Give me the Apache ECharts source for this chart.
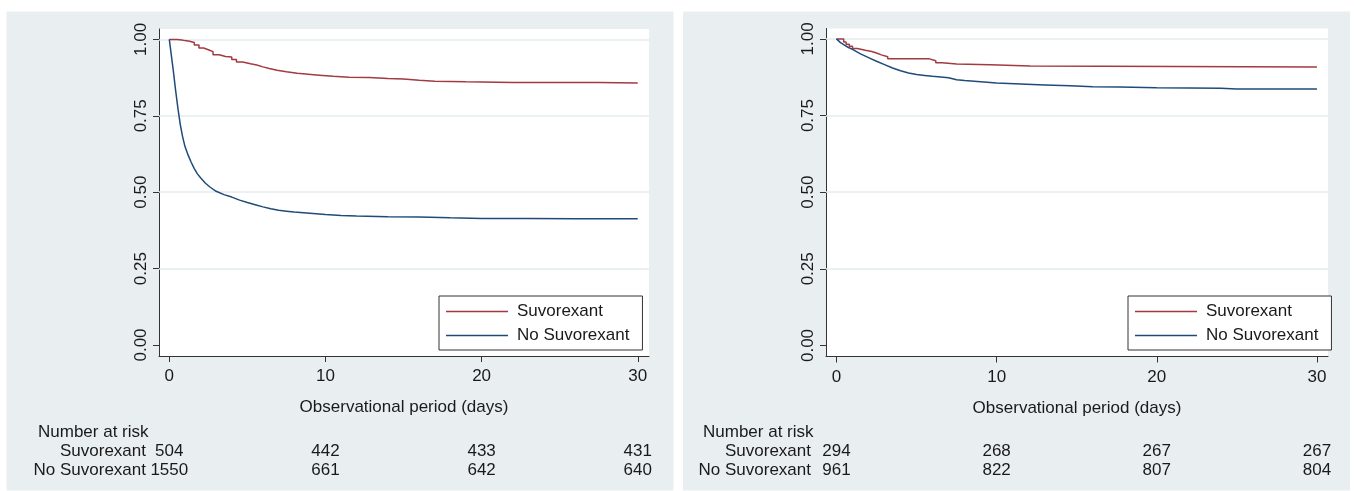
<!DOCTYPE html>
<html>
<head>
<meta charset="utf-8">
<script src="https://cdn.jsdelivr.net/npm/echarts@6/dist/echarts.min.js"></script>
<style>
  html, body { margin: 0; padding: 0; background: #fff; }
  #main { width: 1354px; height: 491px; }
</style>
</head>
<body>
<div id="main"></div>
<script>
// ---- data ----
var dayTicks = [0, 10, 20, 30];
var survTicks = [0, 0.25, 0.5, 0.75, 1];
var groupNames = ['Suvorexant', 'No Suvorexant'];

// left panel
var leftSuvT = [0, 0.5, 0.8, 1.0, 1.3, 1.6, 1.9, 2.2, 2.5, 2.8, 3.2, 3.6, 4.0, 4.3, 4.7, 5.2, 5.6, 6.0, 6.4, 6.9, 7.5, 8.2, 8.9, 9.6, 10.5, 11.5, 12.8, 14.0, 15.0, 16.0, 17.0, 19.0, 22.0, 25.0, 27.5, 30.0];
var leftSuvS = [1.000, 0.998, 0.996, 0.994, 0.990, 0.982, 0.972, 0.966, 0.960, 0.950, 0.944, 0.942, 0.934, 0.926, 0.920, 0.916, 0.910, 0.905, 0.899, 0.894, 0.889, 0.886, 0.883, 0.879, 0.876, 0.875, 0.872, 0.870, 0.866, 0.863, 0.861, 0.859, 0.859, 0.859, 0.857, 0.855];
var leftNoT = [0, 0.1, 0.25, 0.4, 0.55, 0.7, 0.85, 1.0, 1.2, 1.4, 1.6, 1.8, 2.0, 2.3, 2.6, 3.0, 3.5, 4.0, 4.5, 5.0, 5.5, 6.0, 6.5, 7.0, 7.5, 8.0, 9.0, 10.0, 11.0, 12.0, 14.0, 16.0, 18.0, 20.0, 23.0, 26.0, 30.0];
var leftNoS = [1.000, 0.960, 0.900, 0.835, 0.775, 0.722, 0.682, 0.650, 0.622, 0.598, 0.577, 0.560, 0.547, 0.530, 0.517, 0.503, 0.492, 0.484, 0.474, 0.466, 0.459, 0.452, 0.446, 0.441, 0.438, 0.435, 0.431, 0.427, 0.424, 0.422, 0.420, 0.419, 0.416, 0.414, 0.414, 0.413, 0.413];
var leftRiskSuv = [504, 442, 433, 431];
var leftRiskNo = [1550, 661, 642, 640];

// right panel
var rightSuvT = [0, 0.45, 0.6, 0.8, 1.0, 1.3, 1.8, 2.2, 2.5, 2.8, 3.2, 5.8, 6.2, 6.6, 7.5, 9.6, 12.1, 30.0];
var rightSuvS = [1.000, 0.990, 0.983, 0.976, 0.969, 0.963, 0.959, 0.954, 0.948, 0.942, 0.935, 0.929, 0.922, 0.918, 0.916, 0.912, 0.908, 0.908];
var rightNoT = [0, 0.25, 0.5, 0.75, 1.0, 1.5, 2.0, 2.5, 3.0, 3.5, 4.0, 4.5, 5.0, 5.5, 6.0, 6.5, 7.0, 7.5, 8.0, 9.0, 10.0, 11.5, 13.0, 14.6, 16.0, 17.7, 20.0, 22.0, 24.0, 25.0, 27.0, 30.0];
var rightNoS = [1.000, 0.988, 0.980, 0.972, 0.966, 0.951, 0.939, 0.927, 0.916, 0.905, 0.896, 0.889, 0.884, 0.881, 0.878, 0.876, 0.873, 0.867, 0.864, 0.860, 0.856, 0.853, 0.850, 0.847, 0.844, 0.843, 0.841, 0.840, 0.839, 0.837, 0.837, 0.837];
var rightRiskSuv = [294, 268, 267, 267];
var rightRiskNo = [961, 822, 807, 804];

var FONT = '"Liberation Sans", Arial, sans-serif';
var RED = '#a23a42';
var BLUE = '#1f4b78';
var PANEL = '#e9eff1';
var INK = '#1a1a1a';

function zip(t, s) {
  return t.map(function (v, i) { return [v, s[i]]; });
}

function makeX(idx, min, max) {
  return {
    gridIndex: idx,
    type: 'value',
    min: min,
    max: max,
    name: 'Observational period (days)',
    nameLocation: 'middle',
    nameGap: 43,
    nameTextStyle: { fontSize: 17, color: INK, fontFamily: FONT },
    axisLine: { show: true, onZero: false, lineStyle: { color: '#333', width: 1 } },
    axisTick: { show: true, length: 6, customValues: dayTicks, lineStyle: { color: '#333' } },
    axisLabel: { customValues: dayTicks, fontSize: 17, color: INK, fontFamily: FONT, margin: 12 },
    splitLine: { show: false }
  };
}

function makeY(idx) {
  return {
    gridIndex: idx,
    type: 'value',
    min: -0.036,
    max: 1.034,
    axisLine: { show: true, onZero: false, lineStyle: { color: '#333', width: 1 } },
    axisTick: { show: true, length: 6, customValues: survTicks, lineStyle: { color: '#333' } },
    axisLabel: {
      customValues: survTicks,
      rotate: 90,
      margin: 9,
      fontSize: 17,
      color: INK,
      fontFamily: FONT,
      formatter: function (v) { return v.toFixed(2); }
    },
    splitLine: { show: false }
  };
}

function gridLines(idx) {
  // light horizontal rules at 0.25..1.00, kept under the curves
  return {
    type: 'line',
    xAxisIndex: idx,
    yAxisIndex: idx,
    data: [],
    z: 1,
    silent: true,
    markLine: {
      z: 1,
      silent: true,
      symbol: 'none',
      label: { show: false },
      lineStyle: { color: '#e4ecee', width: 1.5, type: 'solid' },
      data: survTicks.filter(function (v) { return v > 0; }).map(function (v) { return { yAxis: v }; })
    }
  };
}

function curve(name, idx, data, color, step) {
  return {
    name: name,
    type: 'line',
    xAxisIndex: idx,
    yAxisIndex: idx,
    data: data,
    step: step ? 'end' : false,
    symbol: 'none',
    z: 6,
    lineStyle: { color: color, width: 1.5 },
    itemStyle: { color: color }
  };
}

function makeLegend(left) {
  return {
    left: left,
    top: 296,
    orient: 'vertical',
    data: groupNames,
    icon: 'rect',
    itemWidth: 62,
    itemHeight: 1.5,
    itemGap: 7,
    padding: [7, 13, 6, 7],
    backgroundColor: '#fff',
    borderColor: '#333',
    borderWidth: 1,
    borderRadius: 0,
    selectedMode: false,
    textStyle: { fontSize: 17, color: INK, fontFamily: FONT, lineHeight: 17, padding: [0, 0, 0, 4] }
  };
}

var option = {
  animation: false,
  backgroundColor: '#fff',
  textStyle: { fontFamily: FONT },
  grid: [
    { left: 159, top: 29, width: 490, height: 327, show: true, backgroundColor: '#fff', borderWidth: 0 },
    { left: 826, top: 28.5, width: 502, height: 328, show: true, backgroundColor: '#fff', borderWidth: 0 }
  ],
  xAxis: [makeX(0, -0.66, 30.72), makeX(1, -0.655, 30.69)],
  yAxis: [makeY(0), makeY(1)],
  legend: [makeLegend(439), makeLegend(1128)],
  series: [
    gridLines(0),
    curve(groupNames[0], 0, zip(leftSuvT, leftSuvS), RED, true),
    curve(groupNames[1], 0, zip(leftNoT, leftNoS), BLUE, false),
    gridLines(1),
    curve(groupNames[0], 1, zip(rightSuvT, rightSuvS), RED, true),
    curve(groupNames[1], 1, zip(rightNoT, rightNoS), BLUE, false)
  ]
};

var chart = echarts.init(document.getElementById('main'));
chart.setOption(option);

// panel backgrounds and the number-at-risk table
function txt(text, x, y, align) {
  return {
    type: 'text',
    x: x,
    y: y,
    z: 10,
    silent: true,
    style: { text: text, fontSize: 17, fontFamily: FONT, fill: INK, align: align, verticalAlign: 'middle' }
  };
}

var graphics = [
  { type: 'rect', z: -10, silent: true, shape: { x: 6.5, y: 11.5, width: 667, height: 479 }, style: { fill: PANEL } },
  { type: 'rect', z: -10, silent: true, shape: { x: 683, y: 11.5, width: 667, height: 479 }, style: { fill: PANEL } }
];

function riskTable(idx, titleX, labelRight, suv, no) {
  graphics.push(txt('Number at risk', titleX, 432, 'left'));
  graphics.push(txt(groupNames[0], labelRight, 451, 'right'));
  graphics.push(txt(groupNames[1], labelRight, 470, 'right'));
  dayTicks.forEach(function (d, i) {
    var x = chart.convertToPixel({ xAxisIndex: idx }, d);
    graphics.push(txt(String(suv[i]), x, 451, 'center'));
    graphics.push(txt(String(no[i]), x, 470, 'center'));
  });
}

riskTable(0, 38, 146, leftRiskSuv, leftRiskNo);
riskTable(1, 703, 811, rightRiskSuv, rightRiskNo);

chart.setOption({ graphic: graphics });
</script>
</body>
</html>
